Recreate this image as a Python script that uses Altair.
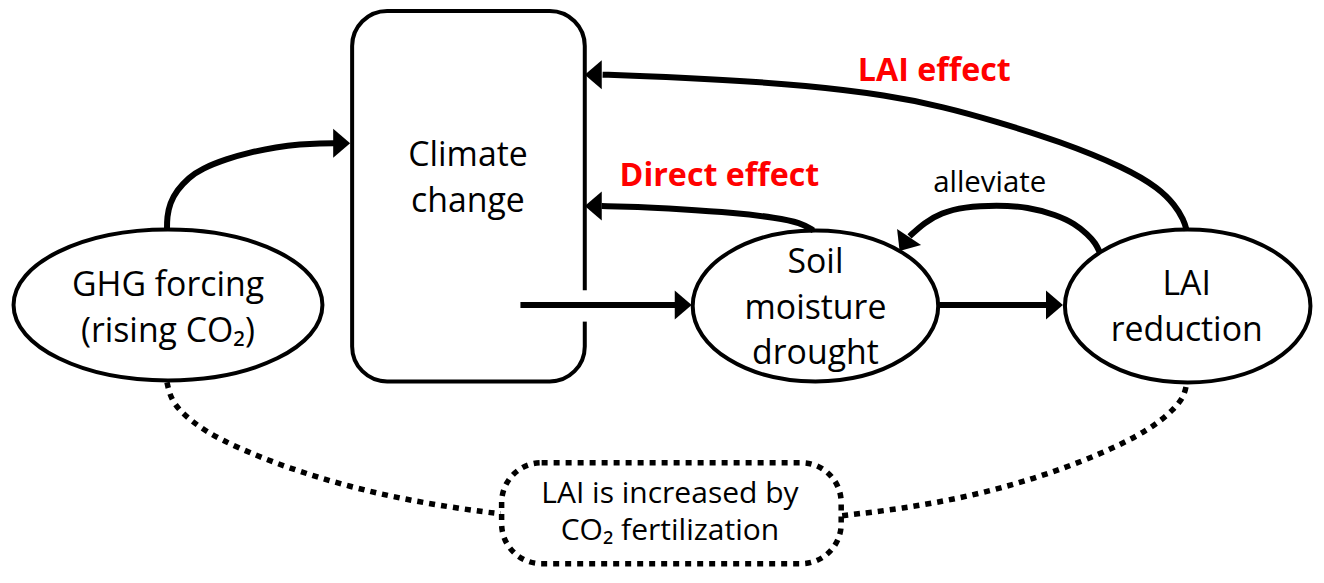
import altair as alt
import pandas as pd

# ---------------- data (positions, in px) ----------------
# Climate-change box and the dotted CO2-fertilization box
box_x0, box_x1, box_y0, box_y1 = [352], [587], [12], [390]
dbox_x0, dbox_x1, dbox_y0, dbox_y1 = [503], [846], [473], [576]
# gap in the right edge of the climate box where the arrow leaves
gap_x, gap_y0, gap_y1 = [587], [297], [329]

# ellipses
ell_cx = [166, 820, 1196]
ell_cy = [312, 313, 313]
ell_rx = [156, 124, 124]
ell_ry = [77, 77, 78]

# solid connector curves (control points)
ghg_x = [165, 165, 168, 175, 187, 200, 225, 250, 275, 300, 320, 336]
ghg_y = [236, 222, 208, 195, 182, 173, 163, 156, 151, 148, 147, 147]
laie_x = [605, 640, 727, 810, 893, 950, 1000, 1067, 1133, 1167, 1183, 1192, 1195]
laie_y = [77, 78, 82, 88, 98, 110, 124, 145, 172, 193, 210, 225, 236]
dir_x = [604, 640, 680, 740, 780, 805, 818]
dir_y = [211, 212, 214, 218, 223, 228, 236]
allev_x = [915, 930, 947, 970, 1003, 1035, 1063, 1082, 1095, 1103, 1107]
allev_y = [242, 228, 218, 212, 210, 212, 220, 229, 240, 249, 258]
str1_x, str1_y = [522, 680], [312, 312]
str2_x, str2_y = [945, 1055], [312, 312]
# dotted connector curves
dotl_x = [165, 168, 177, 203, 237, 283, 350, 417, 483, 502]
dotl_y = [391, 405, 420, 441, 458, 477, 498, 513, 523, 525]
dotr_x = [847, 907, 973, 1040, 1107, 1157, 1183, 1193, 1195]
dotr_y = [527, 520, 508, 490, 465, 440, 418, 404, 391]

# arrowheads (tip position and direction in degrees, clockwise from +x)
head_x = [350, 587, 587, 695, 1070, 905]
head_y = [147, 77, 211, 312, 312, 257]
head_ang = [0, 180, 180, 0, 0, 124]

# labels
lab_text = ["Climate", "change", "GHG forcing", "(rising CO\u2082)", "Soil", "moisture",
            "drought", "LAI", "reduction"]
lab_x = [469, 469, 166, 166, 820, 820, 820, 1195, 1195]
lab_y = [170, 217, 303, 350, 279, 326, 372, 302, 349]
box_text = ["LAI is increased by", "CO\u2082 fertilization"]
box_tx = [673, 673]
box_ty = [514, 552]
red_text = ["Direct effect", "LAI effect"]
red_x = [723, 940]
red_y = [191, 83]
small_text = ["alleviate"]
small_x = [996]
small_y = [197]

# ---------------- canvas mapping ----------------
W, H = 1308, 560
SX, SY = 0.99, 0.98
xs = alt.Scale(domain=[665 - 654 / SX, 665 + 654 / SX], nice=False, zero=False)
ys = alt.Scale(domain=[10 - 1 / SY, 10 + (H - 1) / SY], nice=False, zero=False, reverse=True)
FONT = "Open Sans, Noto Sans, DejaVu Sans"


def X(f):
    return alt.X(f, type="quantitative", scale=xs, axis=None)


def Y(f):
    return alt.Y(f, type="quantitative", scale=ys, axis=None)


# boxes
box_df = pd.DataFrame({"x0": box_x0, "x1": box_x1, "y0": box_y0, "y1": box_y1})
dbox_df = pd.DataFrame({"x0": dbox_x0, "x1": dbox_x1, "y0": dbox_y0, "y1": dbox_y1})
box = alt.Chart(box_df).mark_rect(fill="white", stroke="black", strokeWidth=4,
                                  cornerRadius=35).encode(
    x=X("x0"), x2="x1", y=Y("y0"), y2="y1")
dbox = alt.Chart(dbox_df).mark_rect(fill="white", stroke="black", strokeWidth=5.5,
                                    strokeDash=[6, 6], cornerRadius=40).encode(
    x=X("x0"), x2="x1", y=Y("y0"), y2="y1")
gap_df = pd.DataFrame({"x": gap_x, "y0": gap_y0, "y1": gap_y1})
gap = alt.Chart(gap_df).mark_rule(color="white", strokeWidth=9).encode(
    x=X("x"), y=Y("y0"), y2="y1")

# ellipses as custom symbol paths (unit x-radius, y-radius = ry/rx in pixels)
c = 0.5523


def ell_path(k):
    return (f"M-1,0C-1,{-k*c:.4f},{-c:.4f},{-k:.4f},0,{-k:.4f}"
            f"C{c:.4f},{-k:.4f},1,{-k*c:.4f},1,0"
            f"C1,{k*c:.4f},{c:.4f},{k:.4f},0,{k:.4f}"
            f"C{-c:.4f},{k:.4f},-1,{k*c:.4f},-1,0Z")


ell_df = pd.DataFrame({
    "x": ell_cx, "y": ell_cy,
    "shape": [ell_path((ry * SY) / (rx * SX)) for rx, ry in zip(ell_rx, ell_ry)],
    "size": [(2 * rx * SX) ** 2 for rx in ell_rx],
})
ells = alt.Chart(ell_df).mark_point(filled=False, stroke="black", strokeWidth=4, opacity=1).encode(
    x=X("x"), y=Y("y"), shape=alt.Shape("shape:N", scale=None), size=alt.Size("size:Q", scale=None))


def curves(named):
    rows = []
    for name, (cx, cy) in named.items():
        for i, (a, b) in enumerate(zip(cx, cy)):
            rows.append({"curve": name, "i": i, "x": a, "y": b})
    return pd.DataFrame(rows)


solid_df = curves({"ghg": (ghg_x, ghg_y), "laie": (laie_x, laie_y), "dir": (dir_x, dir_y),
                   "allev": (allev_x, allev_y), "s1": (str1_x, str1_y), "s2": (str2_x, str2_y)})
dotted_df = curves({"dl": (dotl_x, dotl_y), "dr": (dotr_x, dotr_y)})

solid = alt.Chart(solid_df).mark_line(color="black", strokeWidth=6, interpolate="basis").encode(
    x=X("x"), y=Y("y"), detail="curve:N", order="i:Q")
dotted = alt.Chart(dotted_df).mark_line(color="black", strokeWidth=5.5, strokeDash=[6, 6],
                                        interpolate="basis").encode(
    x=X("x"), y=Y("y"), detail="curve:N", order="i:Q")

head_df = pd.DataFrame({"x": head_x, "y": head_y, "ang": head_ang})
heads = alt.Chart(head_df).mark_point(shape="M0,0L-1.17,-1L-1.17,1Z", filled=True, fill="black",
                                      strokeWidth=0, opacity=1, size=(2 * 14.5) ** 2).encode(
    x=X("x"), y=Y("y"), angle=alt.Angle("ang:Q", scale=None))

lab_df = pd.DataFrame({"t": lab_text, "x": lab_x, "y": lab_y})
labels = alt.Chart(lab_df).mark_text(font=FONT, fontSize=33.8, color="black", align="center",
                                     baseline="alphabetic").encode(x=X("x"), y=Y("y"), text="t:N")
boxt_df = pd.DataFrame({"t": box_text, "x": box_tx, "y": box_ty})
boxt = alt.Chart(boxt_df).mark_text(font=FONT, fontSize=30, color="black", align="center",
                                    baseline="alphabetic").encode(x=X("x"), y=Y("y"), text="t:N")
red_df = pd.DataFrame({"t": red_text, "x": red_x, "y": red_y})
reds = alt.Chart(red_df).mark_text(font=FONT, fontSize=32.2, fontWeight="bold", color="#FF0000",
                                   align="center", baseline="alphabetic").encode(
    x=X("x"), y=Y("y"), text="t:N")
small_df = pd.DataFrame({"t": small_text, "x": small_x, "y": small_y})
smalls = alt.Chart(small_df).mark_text(font=FONT, fontSize=29.4, color="black", align="center",
                                       baseline="alphabetic").encode(x=X("x"), y=Y("y"), text="t:N")

chart = alt.layer(box, dbox, gap, ells, solid, dotted, heads, labels, boxt, reds, smalls).properties(
    width=W, height=H, padding=0, autosize=alt.AutoSizeParams(type="none"), background="white"
).configure_view(strokeWidth=0)

chart.save("out.html", embed_options={"renderer": "svg", "actions": False})
